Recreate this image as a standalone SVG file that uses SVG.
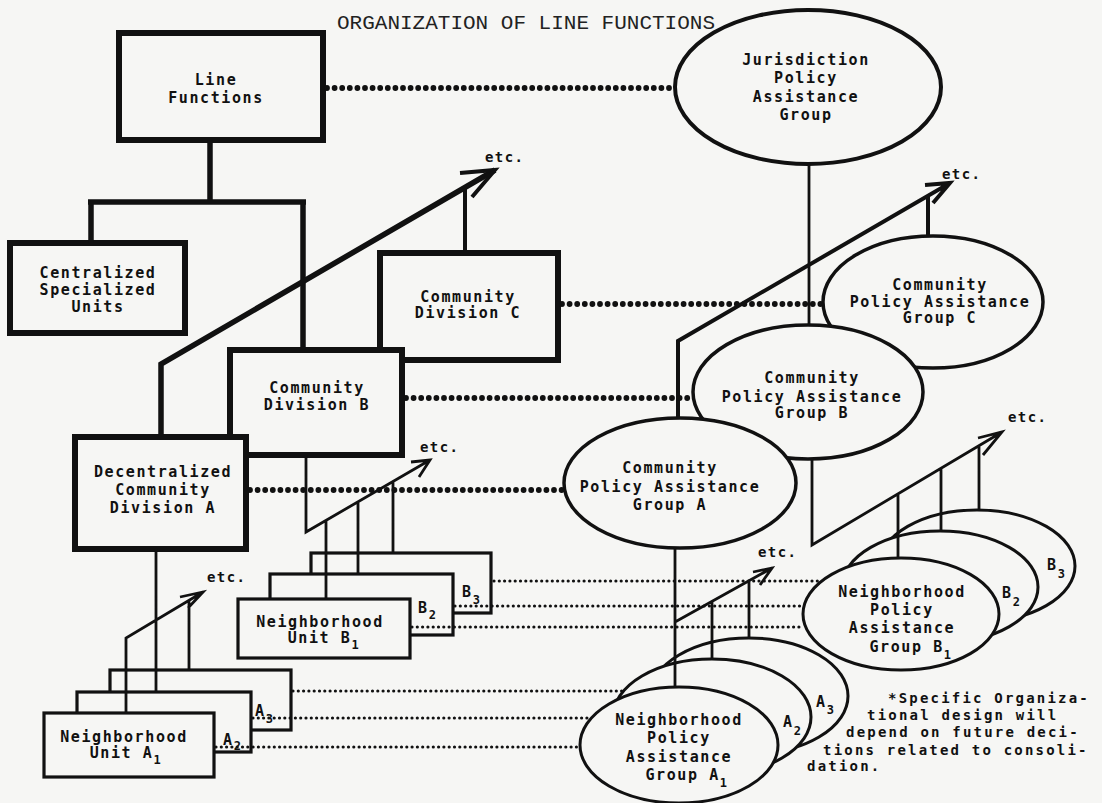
<svg xmlns="http://www.w3.org/2000/svg" width="1102" height="803" viewBox="0 0 1102 803">
<style>
.bg{fill:#f6f6f4}
.box{fill:#f6f6f4;stroke:#111;stroke-width:6}
.ubox{fill:#f6f6f4;stroke:#111;stroke-width:3.2}
.ell{fill:#f6f6f4;stroke:#111;stroke-width:3.5}
.nell{fill:#f6f6f4;stroke:#111;stroke-width:3}
.t{font-family:"DejaVu Sans Mono",monospace;font-size:15px;font-weight:bold;letter-spacing:1.6px;text-anchor:middle;fill:#111}
.tl{font-family:"DejaVu Sans Mono",monospace;font-size:15px;font-weight:bold;letter-spacing:1.6px;fill:#111}
.fn{font-family:"DejaVu Sans Mono",monospace;font-size:14px;font-weight:bold;letter-spacing:2.2px;fill:#111}
.etc{font-family:"DejaVu Sans Mono",monospace;font-size:14px;font-weight:bold;letter-spacing:1.4px;fill:#111}
.title{font-family:"Liberation Mono",monospace;font-size:21px;fill:#222}
.thick{fill:none;stroke:#111;stroke-width:5.5;stroke-linejoin:miter}
.mid{fill:none;stroke:#111;stroke-width:4}
.thin{fill:none;stroke:#111;stroke-width:2.8}
.bigdot{fill:none;stroke:#111;stroke-width:5.8;stroke-linecap:round;stroke-dasharray:0 7.6}
.smdot{fill:none;stroke:#111;stroke-width:3.2;stroke-linecap:round;stroke-dasharray:0 5.3}
</style>
<rect class="bg" x="0" y="0" width="1102" height="803"/>
<text class="title" x="337" y="29" textLength="378" lengthAdjust="spacing">ORGANIZATION OF LINE FUNCTIONS</text>

<g id="centralized">
<rect class="box" x="10" y="243" width="175" height="90"/>
<text class="t" x="98" y="278">Centralized</text>
<text class="t" x="98" y="295">Specialized</text>
<text class="t" x="98" y="312">Units</text>
</g>
<g id="line-functions">
<rect class="box" x="119" y="33" width="204" height="107"/>
<text class="t" x="216" y="85">Line</text>
<text class="t" x="216" y="103">Functions</text>
</g>
<g id="jurisdiction">
<ellipse class="ell" cx="808" cy="87" rx="133" ry="77" style="stroke-width:4"/>
<text class="t" x="806" y="65">Jurisdiction</text>
<text class="t" x="806" y="83">Policy</text>
<text class="t" x="806" y="102">Assistance</text>
<text class="t" x="806" y="120">Group</text>
</g>
<g id="division-c">
<rect class="box" x="380" y="253" width="178" height="107"/>
<text class="t" x="468" y="302">Community</text>
<text class="t" x="468" y="318">Division C</text>
</g>
<g id="division-b">
<rect class="box" x="230" y="350" width="172" height="105"/>
<text class="t" x="317" y="393">Community</text>
<text class="t" x="317" y="410">Division B</text>
</g>
<g id="division-a">
<rect class="box" x="75" y="437" width="171" height="112"/>
<text class="t" x="163" y="477">Decentralized</text>
<text class="t" x="163" y="495">Community</text>
<text class="t" x="163" y="513">Division A</text>
</g>
<g id="group-c">
<ellipse class="ell" cx="933" cy="302" rx="110" ry="66"/>
<text class="t" x="940" y="290">Community</text>
<text class="t" x="940" y="307">Policy Assistance</text>
<text class="t" x="940" y="323">Group C</text>
</g>
<g id="group-b">
<ellipse class="ell" cx="808" cy="392" rx="115" ry="67"/>
<text class="t" x="812" y="383">Community</text>
<text class="t" x="812" y="402">Policy Assistance</text>
<text class="t" x="812" y="418">Group B</text>
</g>
<g id="group-a">
<ellipse class="ell" cx="680" cy="483" rx="116" ry="65"/>
<text class="t" x="670" y="473">Community</text>
<text class="t" x="670" y="492">Policy Assistance</text>
<text class="t" x="670" y="510">Group A</text>
</g>

<g id="unit-b3">
<rect class="ubox" x="311" y="553" width="180" height="60"/>
<text class="tl" x="462" y="597">B<tspan font-size="12" dy="7">3</tspan></text>
</g>
<g id="unit-b2">
<rect class="ubox" x="270" y="574" width="183" height="61"/>
<text class="tl" x="418" y="613">B<tspan font-size="12" dy="6">2</tspan></text>
</g>
<g id="unit-b1">
<rect class="ubox" x="238" y="599" width="172" height="59"/>
<text class="t" x="320" y="627">Neighborhood</text>
<text class="t" x="324" y="643">Unit B<tspan font-size="12" dy="6">1</tspan></text>
</g>
<g id="unit-a3">
<rect class="ubox" x="110" y="670" width="181" height="60"/>
<text class="tl" x="255" y="716">A<tspan font-size="12" dy="7">3</tspan></text>
</g>
<g id="unit-a2">
<rect class="ubox" x="77" y="692" width="174" height="60"/>
<text class="tl" x="223" y="745">A<tspan font-size="12" dy="5">2</tspan></text>
</g>
<g id="unit-a1">
<rect class="ubox" x="44" y="713" width="170" height="64"/>
<text class="t" x="124" y="742">Neighborhood</text>
<text class="t" x="126" y="758">Unit A<tspan font-size="12" dy="6">1</tspan></text>
</g>

<g id="npag-b3">
<ellipse class="nell" cx="977" cy="566" rx="98" ry="56"/>
<text class="tl" x="1047" y="570">B<tspan font-size="12" dy="8">3</tspan></text>
</g>
<g id="npag-b2">
<ellipse class="nell" cx="940" cy="587" rx="98" ry="56"/>
<text class="tl" x="1002" y="598">B<tspan font-size="12" dy="8">2</tspan></text>
</g>
<g id="npag-b1">
<ellipse class="nell" cx="901" cy="614" rx="98" ry="56"/>
<text class="t" x="902" y="597">Neighborhood</text>
<text class="t" x="902" y="615">Policy</text>
<text class="t" x="902" y="633">Assistance</text>
<text class="t" x="911" y="652">Group B<tspan font-size="12" dy="7">1</tspan></text>
</g>
<g id="npag-a3">
<ellipse class="nell" cx="749" cy="696" rx="99" ry="58"/>
<text class="tl" x="816" y="707">A<tspan font-size="12" dy="7">3</tspan></text>
</g>
<g id="npag-a2">
<ellipse class="nell" cx="712" cy="717" rx="99" ry="58"/>
<text class="tl" x="783" y="727">A<tspan font-size="12" dy="8">2</tspan></text>
</g>
<g id="npag-a1">
<ellipse class="nell" cx="679" cy="745" rx="99" ry="58"/>
<text class="t" x="679" y="725">Neighborhood</text>
<text class="t" x="679" y="743">Policy</text>
<text class="t" x="679" y="762">Assistance</text>
<text class="t" x="687" y="780">Group A<tspan font-size="12" dy="7">1</tspan></text>
</g>

<g id="connectors">
<path class="thick" d="M210 140V202M88 202H306M91 202V243M303 202V350"/>
<path class="thick" d="M161 437V364L495 170"/>
<path class="mid" d="M460 173L495 170L472 197M465 253V189"/>
<path class="thin" d="M809 164V325"/>
<path class="mid" d="M678 418V341L950 183M925 185L950 183L933 203M928 236V196"/>
<path class="thin" d="M306 455V532L430 460M411 462L430 460L419 477M326 599V520M358 574V502M393 553V482"/>
<path class="thin" d="M156 549V692M126 713V638L203 592M180 597L203 592L188 608M189 670V600"/>
<path class="thin" d="M675 548V687M675 622L772 568M753 572L772 568L760 585M712 659V601M749 638V581"/>
<path class="thin" d="M812 459V545L1002 432M978 438L1002 432L983 455M898 557V494M941 531V468M979 510V446"/>
<path class="bigdot" d="M327 88H672M562 304H822M406 398H690M250 490H562"/>
<path class="smdot" d="M494 581H821M455 606H801M412 627H801M293 691H623M253 718H591M216 747H579"/>
</g>

<g id="etc-labels">
<text class="etc" x="485" y="162">etc.</text>
<text class="etc" x="942" y="179">etc.</text>
<text class="etc" x="420" y="452">etc.</text>
<text class="etc" x="207" y="582">etc.</text>
<text class="etc" x="758" y="557">etc.</text>
<text class="etc" x="1008" y="422">etc.</text>
</g>

<g id="footnote">
<text class="fn" x="888" y="703">*Specific Organiza-</text>
<text class="fn" x="867" y="720">tional design will</text>
<text class="fn" x="846" y="737">depend on future deci-</text>
<text class="fn" x="823" y="755">tions related to consoli-</text>
<text class="fn" x="807" y="771">dation.</text>
</g>
</svg>
